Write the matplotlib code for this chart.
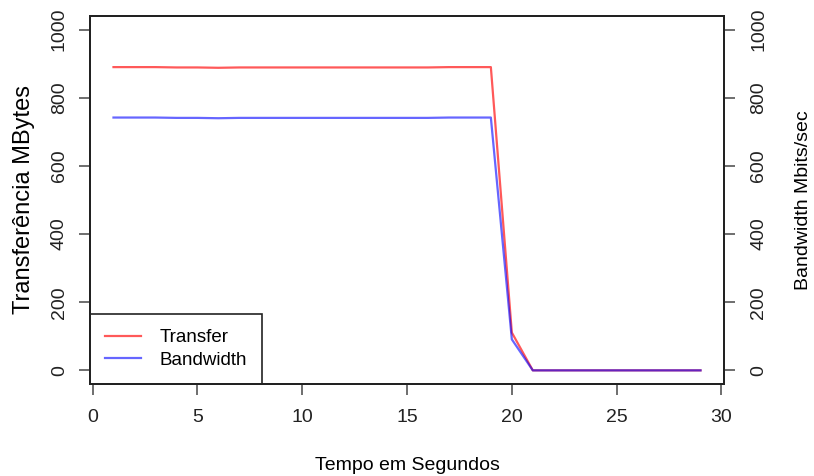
import numpy as np
import matplotlib
matplotlib.use('Agg')
import matplotlib.pyplot as plt

plt.rcParams['font.family'] = ['Liberation Sans', 'DejaVu Sans']

# tempo (s) e valores medidos
tempo = list(range(1, 30))
transfer = [890, 890, 890, 889, 889, 888, 889, 889, 889, 889, 889, 889, 889, 889,
            889, 889, 890, 890, 890, 111, 0, 0, 0, 0, 0, 0, 0, 0, 0]
bandwidth = [742, 742, 742, 741, 741, 740, 741, 741, 741, 741, 741, 741, 741, 741,
             741, 741, 742, 742, 742, 91, 0, 0, 0, 0, 0, 0, 0, 0, 0]

x_ticks = [0, 5, 10, 15, 20, 25, 30]
y_ticks = [0, 200, 400, 600, 800, 1000]

fig = plt.figure(figsize=(8.14, 4.76), dpi=100)
ax = fig.add_axes([90 / 814, 1 - 384 / 476, 634 / 814, 368 / 476])

l1, = ax.plot(tempo, transfer, color='#ff0000', alpha=0.65, linewidth=1.6)
l2, = ax.plot(tempo, bandwidth, color='#0000ff', alpha=0.6, linewidth=1.6)

ax.set_xlim(-0.12, 30.12)
ax.set_ylim(-40, 1040)
ax.set_xticks(x_ticks)
ax.set_yticks(y_ticks)
ax.set_yticklabels([str(v) for v in y_ticks], rotation=90, va='center')
ax.tick_params(axis='both', direction='out', length=8, width=1.2, color='#555555',
               labelsize=14, labelcolor='#222222')
ax.tick_params(axis='x', pad=10)
ax.tick_params(axis='y', pad=8)
for s in ax.spines.values():
    s.set_linewidth(1.4)
    s.set_color('#222222')

ax2 = ax.twinx()
ax2.set_ylim(-40, 1040)
ax2.set_yticks(y_ticks)
ax2.set_yticklabels([str(v) for v in y_ticks], rotation=90, va='center')
ax2.tick_params(axis='y', direction='out', length=8, width=1.2, color='#555555',
                labelsize=14, labelcolor='#222222', pad=11)
for s in ax2.spines.values():
    s.set_linewidth(1.4)
    s.set_color('#222222')

ax.set_ylabel('Transferência MBytes', fontsize=17, labelpad=11)
ax2.set_ylabel('Bandwidth Mbits/sec', fontsize=14, labelpad=20)
ax.set_xlabel('Tempo em Segundos', fontsize=14, labelpad=22)

leg = ax.legend([l1, l2], ['Transfer', 'Bandwidth'], loc='lower left', fontsize=13.5,
                borderaxespad=0, fancybox=False, edgecolor='#222222', framealpha=1,
                handlelength=1.9, handletextpad=1.0, borderpad=0.8, labelspacing=0.3)
leg.get_frame().set_linewidth(1.2)

fig.savefig('out.png', dpi=100)
